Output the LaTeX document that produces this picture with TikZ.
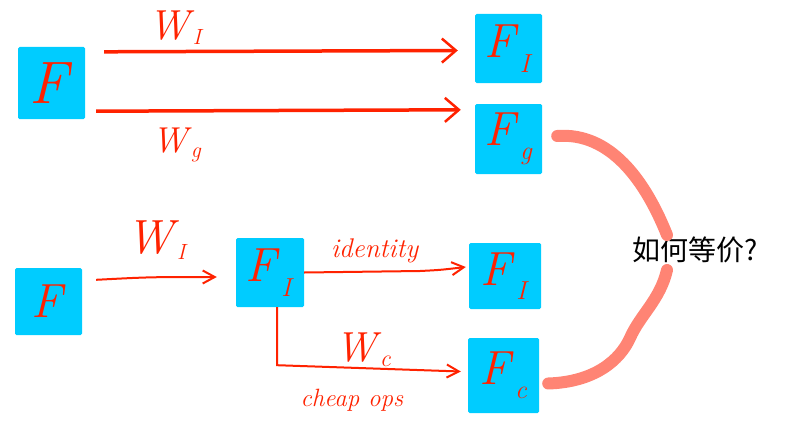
\documentclass[tikz,border=0pt]{standalone}
\usepackage{fontspec}
\newfontfamily\cjk{Noto Sans CJK SC}
\usetikzlibrary{arrows.meta}
\definecolor{boxblue}{HTML}{00CCFF}
\definecolor{inkred}{HTML}{FF2200}
\definecolor{salmonpink}{HTML}{FF8474}
\newcommand{\Fsb}[1]{\textit{F}\kern0.02em\raisebox{-0.3em}{\fontsize{26}{26}\selectfont\textit{#1}}}
\newcommand{\Wsb}[2]{\textit{W}\kern-0.04em\raisebox{-0.12em}{\fontsize{#2}{#2}\selectfont\textit{#1}}}
\begin{document}
\begin{tikzpicture}[x=1pt,y=-1pt,
  fbox/.style={fill=boxblue, rounded corners=1.5pt, inner sep=0pt, text=inkred,
    font=\fontsize{48}{48}\selectfont},
  lbl/.style={text=inkred, inner sep=0pt},
  thickarr/.style={draw=inkred, line width=3.5pt,
    -{Straight Barb[length=14pt,width=24pt,line width=2.5pt]}},
  thinarr/.style={draw=inkred, line width=2pt,
    -{Straight Barb[length=12pt,width=13pt,line width=2pt]}},
  bond/.style={draw=salmonpink, line width=12pt, line cap=round}
]
\useasboundingbox (0,0) rectangle (786,444);

% boxes
\node[fbox, minimum width=67pt, minimum height=72pt, font=\fontsize{60}{60}\selectfont] (F1) at (51.5,83) {\textit{F}};
\node[fbox, minimum width=67pt, minimum height=69pt] (FI1) at (508.5,48.5) {\Fsb{I}};
\node[fbox, minimum width=67pt, minimum height=70pt] (Fg) at (508.5,139) {\Fsb{g}};
\node[fbox, minimum width=67pt, minimum height=67pt] (F2) at (48.5,301.5) {\textit{F}};
\node[fbox, minimum width=68pt, minimum height=69pt] (FI2) at (270,272.5) {\Fsb{I}};
\node[fbox, minimum width=72pt, minimum height=66pt] (FI3) at (505,276) {\Fsb{I}};
\node[fbox, minimum width=71pt, minimum height=75pt] (Fc) at (503.5,375.5) {\Fsb{c}};

% labels
\node[lbl, font=\fontsize{42}{42}\selectfont] (wI1) at (176,28) {\Wsb{I}{22}};
\node[lbl, font=\fontsize{36}{36}\selectfont] (wg) at (177,145) {\Wsb{g}{22}};
\node[lbl, font=\fontsize{48}{48}\selectfont] (wI2) at (157,240) {\Wsb{I}{22}};
\node[lbl, font=\fontsize{27}{27}\selectfont] (idl) at (375,251) {\textit{identity}};
\node[lbl, font=\fontsize{42}{42}\selectfont] (wc) at (363,350) {\Wsb{c}{24}};
\node[lbl, font=\fontsize{25}{25}\selectfont] (cheap) at (352,400) {\textit{cheap ops}};
\node[inner sep=0pt, font=\cjk\fontsize{28}{28}\selectfont] (Q) at (695,250) {如何等价?};

% top arrows
\draw[thickarr] ([xshift=19pt,yshift=-5pt]F1.north east) -- ([xshift=-17pt,yshift=-2pt]FI1.west);
\draw[thickarr] ([xshift=11pt,yshift=8pt]F1.south east) -- ([xshift=-14pt,yshift=-6pt]Fg.north west);

% bottom arrows
\draw[thinarr] ([xshift=14pt,yshift=-12pt]F2.north east) .. controls (150,277) .. ([xshift=-19pt,yshift=-4.5pt]FI2.west);
\draw[thinarr] (FI2.east) -- (420,271) .. controls (440,270) .. ([xshift=-3pt,yshift=9pt]FI3.west);
\draw[thinarr] ([xshift=7pt]FI2.south) -- ++(0,58) -- ([xshift=-7pt,yshift=4pt]Fc.west);

% equivalence brace
\coordinate (qtop) at (667,235);
\coordinate (qbot) at (667,270);
\draw[bond] ([xshift=15pt,yshift=3pt]Fg.east) .. controls (610,132) and (645,180) .. (qtop);
\draw[bond] (qbot) .. controls (660,300) and (640,315) .. (630,338)
  .. controls (620,360) and (595,382) .. ([xshift=9pt,yshift=-8pt]Fc.east);
\end{tikzpicture}
\end{document}
